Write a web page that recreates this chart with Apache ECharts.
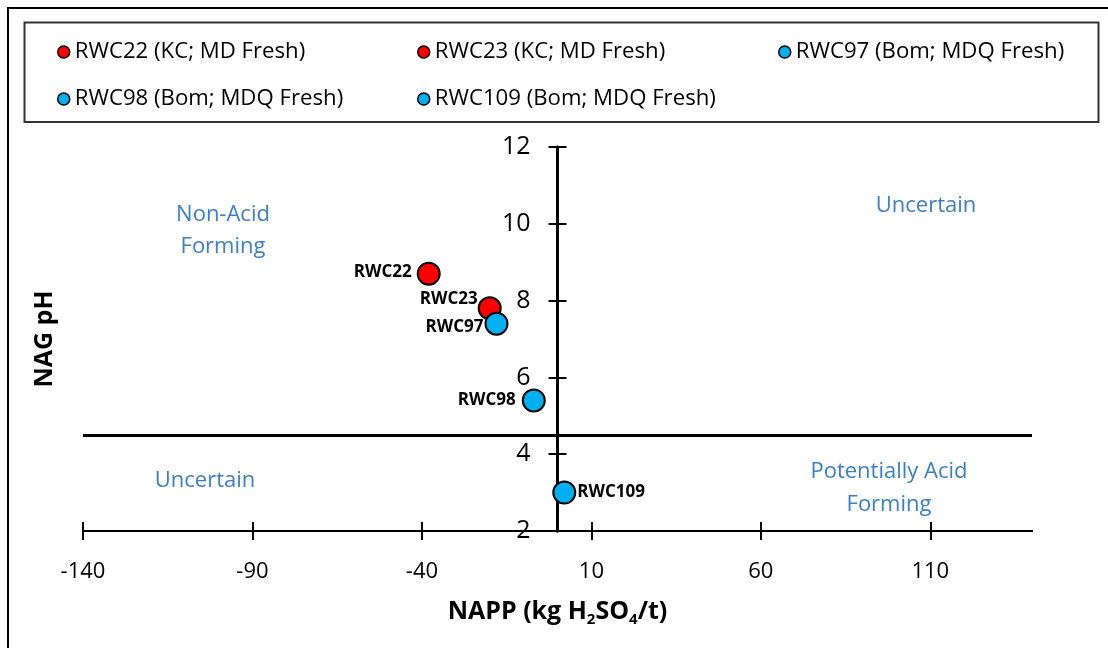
<!DOCTYPE html>
<html>
<head>
<meta charset="utf-8">
<title>NAG pH vs NAPP</title>
<script src="https://cdn.jsdelivr.net/npm/echarts@6/dist/echarts.min.js"></script>
<style>
  html, body { margin: 0; padding: 0; background: #ffffff; }
  #chart { width: 1108px; height: 648px; }
</style>
</head>
<body>
<div id="chart"></div>
<script>
// Sample identifiers, their legend entries and measured values
const sampleIds = ['RWC22', 'RWC23', 'RWC97', 'RWC98', 'RWC109'];
const legendNames = [
  'RWC22 (KC; MD Fresh)',
  'RWC23 (KC; MD Fresh)',
  'RWC97 (Bom; MDQ Fresh)',
  'RWC98 (Bom; MDQ Fresh)',
  'RWC109 (Bom; MDQ Fresh)'
];
const nappValues = [-38, -20, -18, -7, 2];      // kg H2SO4/t
const nagPhValues = [8.7, 7.8, 7.4, 5.4, 3.0];  // NAG pH

// Axis ticks and the pH dividing line
const xTickValues = [-140, -90, -40, 10, 60, 110];
const yTickValues = [2, 4, 6, 8, 10, 12];
const phThreshold = 4.5;

// Styling
const RED = '#ff0000';
const BLUE = '#00b0f0';
const markerColors = [RED, RED, BLUE, BLUE, BLUE];
const zoneColor = '#3b7fc6';
const baseFont = '"Open Sans", "DejaVu Sans", sans-serif';

// Where each point's label sits relative to its marker
const labelPlacement = [
  { position: 'left', distance: 5, offset: [0, -2] },
  { position: 'left', distance: 0, offset: [0, -9] },
  { position: 'left', distance: 1, offset: [0, 4] },
  { position: 'left', distance: 6, offset: [0, 0] },
  { position: 'right', distance: 1, offset: [0, 0] }
];

// Legend slots (three per row)
const legendSlots = [
  { left: 57, top: 41 },
  { left: 417, top: 41 },
  { left: 778, top: 41 },
  { left: 57, top: 88 },
  { left: 417, top: 88 }
];

const X_MIN = -140, X_MAX = 140, Y_MIN = 2, Y_MAX = 12;
const GRID = { left: 83, right: 76, top: 147, bottom: 117 };

const series = sampleIds.map((id, i) => ({
  name: legendNames[i],
  type: 'scatter',
  xAxisIndex: 0,
  yAxisIndex: 0,
  symbol: 'circle',
  symbolSize: 22,
  z: 5,
  itemStyle: { color: markerColors[i], borderColor: '#000', borderWidth: 2, opacity: 1 },
  label: {
    show: true,
    formatter: id,
    position: labelPlacement[i].position,
    distance: labelPlacement[i].distance,
    offset: labelPlacement[i].offset,
    fontFamily: baseFont,
    fontWeight: 'bold',
    fontSize: 17,
    color: '#000'
  },
  emphasis: { disabled: true },
  data: [[nappValues[i], nagPhValues[i]]]
}));

// pH threshold line across the whole plot
series.push({
  type: 'scatter',
  xAxisIndex: 0,
  yAxisIndex: 0,
  data: [],
  silent: true,
  markLine: {
    silent: true,
    symbol: ['none', 'none'],
    label: { show: false },
    lineStyle: { color: '#000', width: 3, type: 'solid' },
    emphasis: { disabled: true },
    data: [{ yAxis: phThreshold }]
  }
});

const legends = legendNames.map((name, i) => ({
  data: [name],
  left: legendSlots[i].left,
  top: legendSlots[i].top,
  padding: 0,
  icon: 'circle',
  itemWidth: 12,
  itemHeight: 12,
  itemStyle: { borderColor: '#000', borderWidth: 1.5 },
  selectedMode: false,
  textStyle: { fontFamily: baseFont, fontSize: 22.2, color: '#000' }
}));

const xAxisCommon = {
  type: 'value',
  min: X_MIN,
  max: X_MAX,
  position: 'bottom',
  splitLine: { show: false },
  axisLine: { show: true, onZero: true, lineStyle: { color: '#000', width: 2 } }
};
const yAxisCommon = {
  type: 'value',
  min: Y_MIN,
  max: Y_MAX,
  interval: 2,
  position: 'left',
  splitLine: { show: false },
  axisLine: { show: true, onZero: true, lineStyle: { color: '#000', width: 3 } }
};

// The vertical axis line sits at NAPP = 0, but its labels are laid out from the
// plot's left edge, so they are pulled across to sit just left of that line.
const zeroLineX = GRID.left + (0 - X_MIN) / (X_MAX - X_MIN) * (1108 - GRID.left - GRID.right);
const yLabelMargin = -(zeroLineX - GRID.left - 27);

const option = {
  backgroundColor: '#ffffff',
  animation: false,
  textStyle: { fontFamily: baseFont },
  grid: { left: GRID.left, right: GRID.right, top: GRID.top, bottom: GRID.bottom, containLabel: false, outerBoundsMode: 'none' },
  legend: legends,
  xAxis: [
    Object.assign({}, xAxisCommon, {
      name: 'NAPP (kg H{sub|2}SO{sub|4}/t)',
      nameLocation: 'middle',
      nameGap: 81,
      nameMoveOverlap: false,
      nameTextStyle: {
        fontFamily: baseFont, fontWeight: 'bold', fontSize: 25, color: '#000',
        lineHeight: 30, verticalAlign: 'middle',
        rich: {
          sub: { fontFamily: baseFont, fontWeight: 'bold', fontSize: 15, color: '#000', lineHeight: 30, verticalAlign: 'bottom' }
        }
      },
      axisTick: { show: true, inside: false, length: 9, customValues: xTickValues, lineStyle: { color: '#000', width: 2 } },
      axisLabel: { show: true, customValues: xTickValues, margin: 30, fontFamily: baseFont, fontSize: 22, color: '#000' }
    }),
    Object.assign({}, xAxisCommon, {
      axisTick: { show: true, inside: true, length: 9, customValues: xTickValues, lineStyle: { color: '#000', width: 2 } },
      axisLabel: { show: false }
    })
  ],
  yAxis: [
    Object.assign({}, yAxisCommon, {
      name: 'NAG pH',
      nameLocation: 'middle',
      nameGap: 26,
      nameRotate: 90,
      nameMoveOverlap: false,
      nameTextStyle: { fontFamily: baseFont, fontWeight: 'bold', fontSize: 25, color: '#000' },
      axisTick: { show: true, inside: false, length: 9, lineStyle: { color: '#000', width: 2 } },
      axisLabel: { show: true, customValues: yTickValues, margin: yLabelMargin, fontFamily: baseFont, fontSize: 25, color: '#000' }
    }),
    Object.assign({}, yAxisCommon, {
      axisTick: { show: true, inside: true, length: 9, lineStyle: { color: '#000', width: 2 } },
      axisLabel: { show: false }
    })
  ],
  graphic: [
    // outer frame and legend frame
    { type: 'rect', z: -10, silent: true, shape: { x: 8, y: 8, width: 1200, height: 800 },
      style: { fill: 'none', stroke: '#000', lineWidth: 2 } },
    { type: 'rect', z: -10, silent: true, shape: { x: 24.5, y: 22.5, width: 1074, height: 99.5 },
      style: { fill: 'none', stroke: '#333', lineWidth: 2 } },
    // zone annotations
    { type: 'text', silent: true, x: 223, y: 231,
      style: { text: 'Non-Acid\nForming', align: 'center', verticalAlign: 'middle', lineHeight: 32, fill: zoneColor, font: '22px ' + baseFont } },
    { type: 'text', silent: true, x: 926, y: 206,
      style: { text: 'Uncertain', align: 'center', verticalAlign: 'middle', fill: zoneColor, font: '22px ' + baseFont } },
    { type: 'text', silent: true, x: 205, y: 481,
      style: { text: 'Uncertain', align: 'center', verticalAlign: 'middle', fill: zoneColor, font: '22px ' + baseFont } },
    { type: 'text', silent: true, x: 889, y: 488,
      style: { text: 'Potentially Acid\nForming', align: 'center', verticalAlign: 'middle', lineHeight: 33, fill: zoneColor, font: '22px ' + baseFont } }
  ],
  series: series
};

const chart = echarts.init(document.getElementById('chart'), null, { renderer: 'canvas' });
chart.setOption(option);
</script>
</body>
</html>
